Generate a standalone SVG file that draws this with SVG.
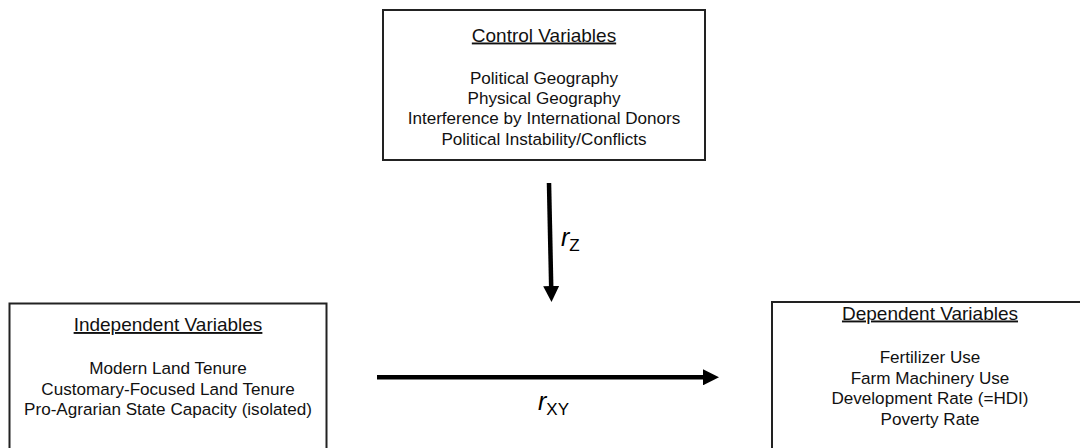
<svg xmlns="http://www.w3.org/2000/svg" width="1080" height="448" viewBox="0 0 1080 448">
<defs>
<style>
.box{fill:#fff;stroke:#222;stroke-width:2}
.title{font-family:"Liberation Sans",Arial,sans-serif;font-size:19px;fill:#111;text-anchor:middle;text-decoration:underline}
.body{font-family:"Liberation Sans",Arial,sans-serif;font-size:17.1px;fill:#111;text-anchor:middle}
.conn{stroke:#000;stroke-width:4.5;fill:none}
.lab{font-family:"Liberation Sans",Arial,sans-serif;fill:#000}
</style>
<marker id="ah" viewBox="0 0 16 16" markerUnits="userSpaceOnUse" markerWidth="16" markerHeight="16" refX="1" refY="8" orient="auto">
<path d="M0,0 L16,8 L0,16 z" fill="#000"/>
</marker>
</defs>
<rect width="1080" height="448" fill="#fff"/>
<g id="control">
<rect class="box" x="383" y="10" width="322" height="150"/>
<text class="title" x="544" y="41.5">Control Variables</text>
<text class="body" x="544" y="83.5">Political Geography</text>
<text class="body" x="544" y="104">Physical Geography</text>
<text class="body" x="544" y="124.3">Interference by International Donors</text>
<text class="body" x="544" y="144.6">Political Instability/Conflicts</text>
</g>
<g id="independent">
<rect class="box" x="9.5" y="303.5" width="317" height="200"/>
<text class="title" x="168" y="331">Independent Variables</text>
<text class="body" x="168" y="374">Modern Land Tenure</text>
<text class="body" x="168" y="394.5">Customary-Focused Land Tenure</text>
<text class="body" x="168" y="415">Pro-Agrarian State Capacity (isolated)</text>
</g>
<g id="dependent">
<rect class="box" x="772" y="302" width="400" height="200"/>
<text class="title" x="930" y="319.5">Dependent Variables</text>
<text class="body" x="930" y="363">Fertilizer Use</text>
<text class="body" x="930" y="383.6">Farm Machinery Use</text>
<text class="body" x="930" y="404.2">Development Rate (=HDI)</text>
<text class="body" x="930" y="424.8">Poverty Rate</text>
</g>
<g id="connectors">
<line class="conn" x1="549" y1="183" x2="551.2" y2="287" marker-end="url(#ah)"/>
<line class="conn" x1="377" y1="377.3" x2="704" y2="377.3" marker-end="url(#ah)"/>
<text class="lab" x="561" y="246"><tspan font-size="25" font-style="italic">r</tspan><tspan font-size="17" dy="5">Z</tspan></text>
<text class="lab" x="538" y="410"><tspan font-size="25" font-style="italic">r</tspan><tspan font-size="17" dy="5">XY</tspan></text>
</g>
</svg>
